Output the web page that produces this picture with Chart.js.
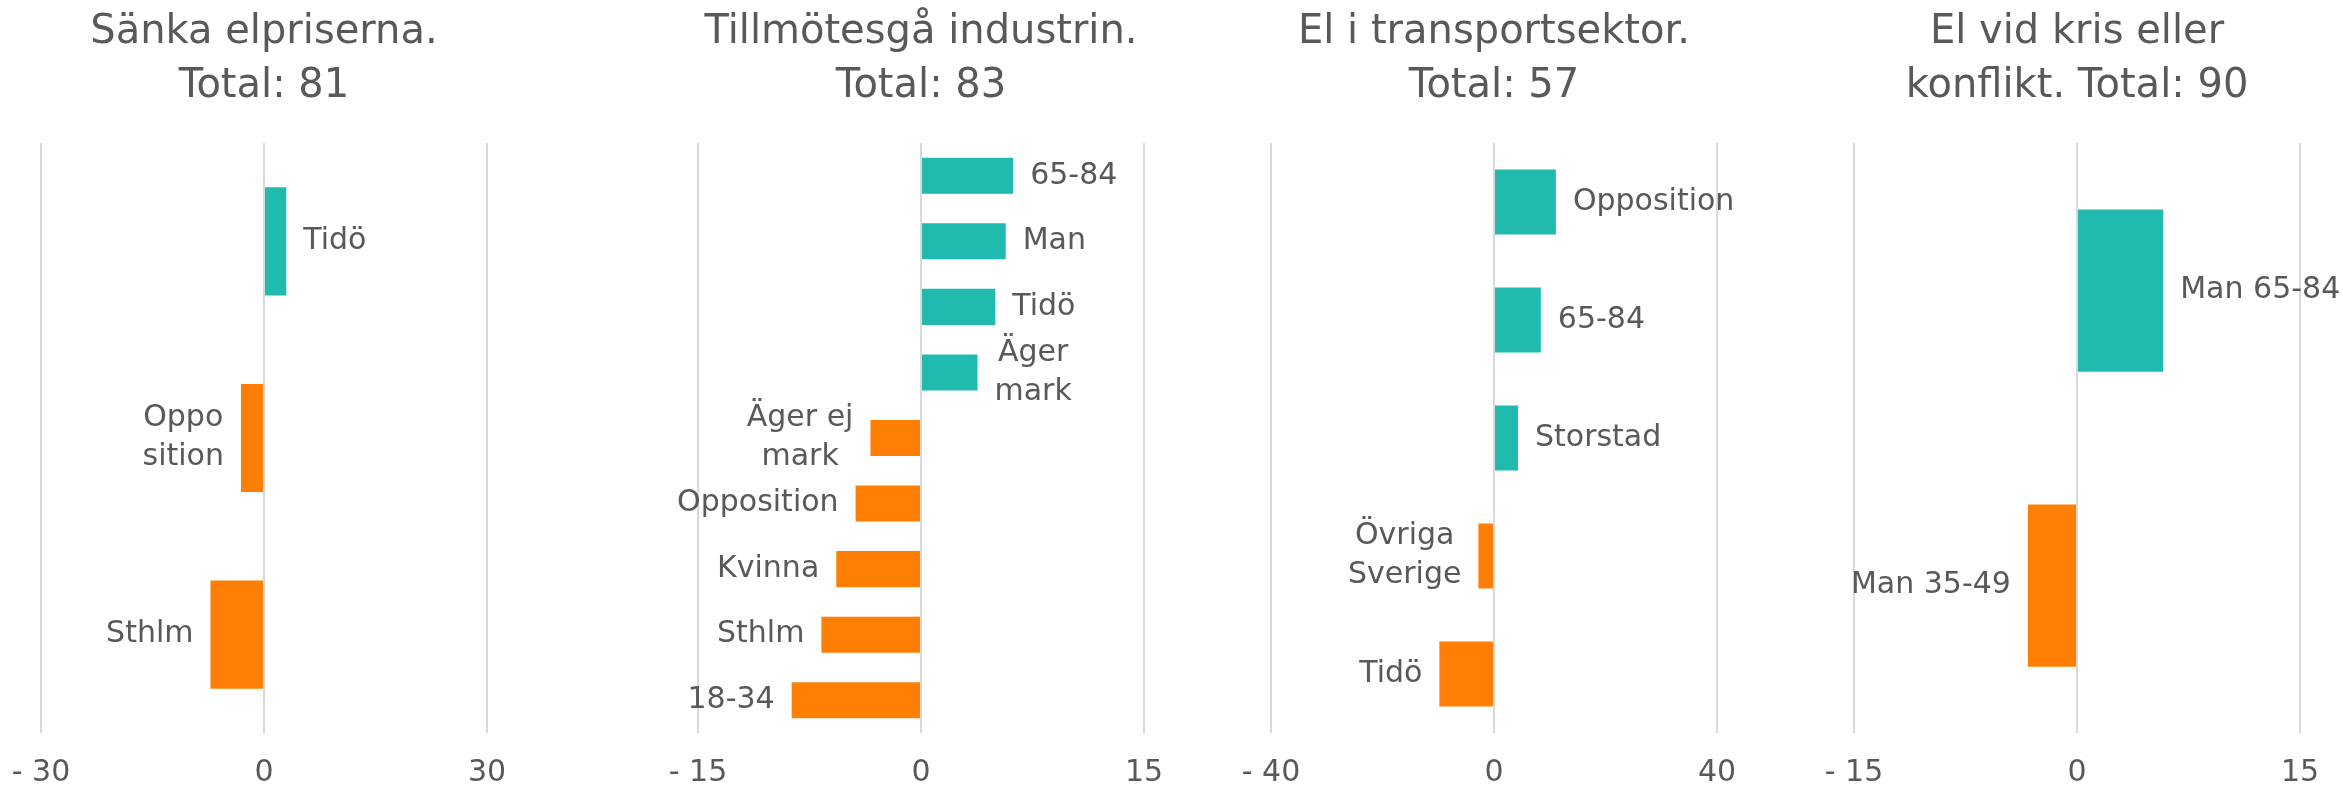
<!DOCTYPE html>
<html>
<head>
<meta charset="utf-8">
<script src="https://cdn.jsdelivr.net/npm/chart.js@4"></script>
<style>
  html, body { margin: 0; padding: 0; background: #fff; overflow: hidden; }
  body { width: 2343px; height: 792px; position: relative; }
  .panel { position: absolute; top: 0; width: 560px; height: 813px; }
</style>
</head>
<body>
<div class="panel" style="left:-16px"><canvas id="c1" width="560" height="813"></canvas></div>
<div class="panel" style="left:641px"><canvas id="c2" width="560" height="813"></canvas></div>
<div class="panel" style="left:1214px"><canvas id="c3" width="560" height="813"></canvas></div>
<div class="panel" style="left:1797px"><canvas id="c4" width="560" height="813"></canvas></div>
<script>
// ---- Data ----
const titles1 = ["Sänka elpriserna.", "Total: 81"];
const categories1 = ["Tidö", "Oppo\nsition", "Sthlm"];
const values1 = [3, -3.1, -7.2];
const axisMax1 = 30;

const titles2 = ["Tillmötesgå industrin.", "Total: 83"];
const categories2 = ["65-84", "Man", "Tidö", "Äger\nmark", "Äger ej\nmark", "Opposition", "Kvinna", "Sthlm", "18-34"];
const values2 = [6.2, 5.7, 5.0, 3.8, -3.4, -4.4, -5.7, -6.7, -8.7];
const axisMax2 = 15;

const titles3 = ["El i transportsektor.", "Total: 57"];
const categories3 = ["Opposition", "65-84", "Storstad", "Övriga\nSverige", "Tidö"];
const values3 = [11.1, 8.4, 4.3, -2.8, -9.8];
const axisMax3 = 40;

const titles4 = ["El vid kris eller", "konflikt. Total: 90"];
const categories4 = ["Man 65-84", "Man 35-49"];
const values4 = [5.8, -3.3];
const axisMax4 = 15;

// ---- Styles ----
const TEAL = "#21BAAE";
const ORANGE = "#FE7F03";
const TEXT = "#595959";
const GRID = "#D9D9D9";
const FONT = "'DejaVu Sans', sans-serif";

const barLabelPlugin = {
  id: 'barLabels',
  afterDatasetsDraw(chart) {
    const ctx = chart.ctx;
    const meta = chart.getDatasetMeta(0);
    const data = chart.data.datasets[0].data;
    const labels = chart.data.labels;
    const xScale = chart.scales.x;
    const gap = 17, lineH = 39;
    ctx.save();
    ctx.font = "30px " + FONT;
    ctx.fillStyle = TEXT;
    ctx.textBaseline = 'middle';
    ctx.textAlign = 'center';
    meta.data.forEach((bar, i) => {
      const v = data[i];
      const end = xScale.getPixelForValue(v);
      const lines = String(labels[i]).split('\n');
      const w = Math.max(...lines.map(l => ctx.measureText(l).width));
      const cx = v >= 0 ? end + gap + w / 2 : end - gap - w / 2;
      const y0 = bar.y - (lines.length - 1) * lineH / 2;
      lines.forEach((l, k) => ctx.fillText(l, cx, y0 + k * lineH));
    });
    ctx.restore();
  }
};

function makeChart(id, titleLines, cats, vals, axisMax) {
  return new Chart(document.getElementById(id), {
    type: 'bar',
    data: {
      labels: cats,
      datasets: [{
        data: vals,
        backgroundColor: vals.map(v => v >= 0 ? TEAL : ORANGE),
        borderWidth: 0,
        barPercentage: 0.55,
        categoryPercentage: 1.0
      }]
    },
    options: {
      indexAxis: 'y',
      responsive: false,
      animation: false,
      layout: { padding: { left: 57, right: 57, top: 0, bottom: 0 } },
      plugins: {
        legend: { display: false },
        tooltip: { enabled: false },
        title: {
          display: true,
          text: titleLines,
          color: TEXT,
          font: { family: FONT, size: 40, weight: 'normal', lineHeight: 1.35 },
          padding: { top: 6, bottom: 29 }
        }
      },
      scales: {
        x: {
          min: -axisMax,
          max: axisMax,
          border: { display: false },
          grid: { color: GRID, lineWidth: 2, drawTicks: false },
          ticks: {
            stepSize: axisMax,
            padding: 22,
            color: TEXT,
            font: { family: FONT, size: 30 },
            maxRotation: 0,
            callback: v => v < 0 ? '- ' + Math.abs(v) : String(v)
          }
        },
        y: {
          display: false,
          grid: { display: false }
        }
      }
    },
    plugins: [barLabelPlugin]
  });
}

makeChart('c1', titles1, categories1, values1, axisMax1);
makeChart('c2', titles2, categories2, values2, axisMax2);
makeChart('c3', titles3, categories3, values3, axisMax3);
makeChart('c4', titles4, categories4, values4, axisMax4);
</script>
</body>
</html>
